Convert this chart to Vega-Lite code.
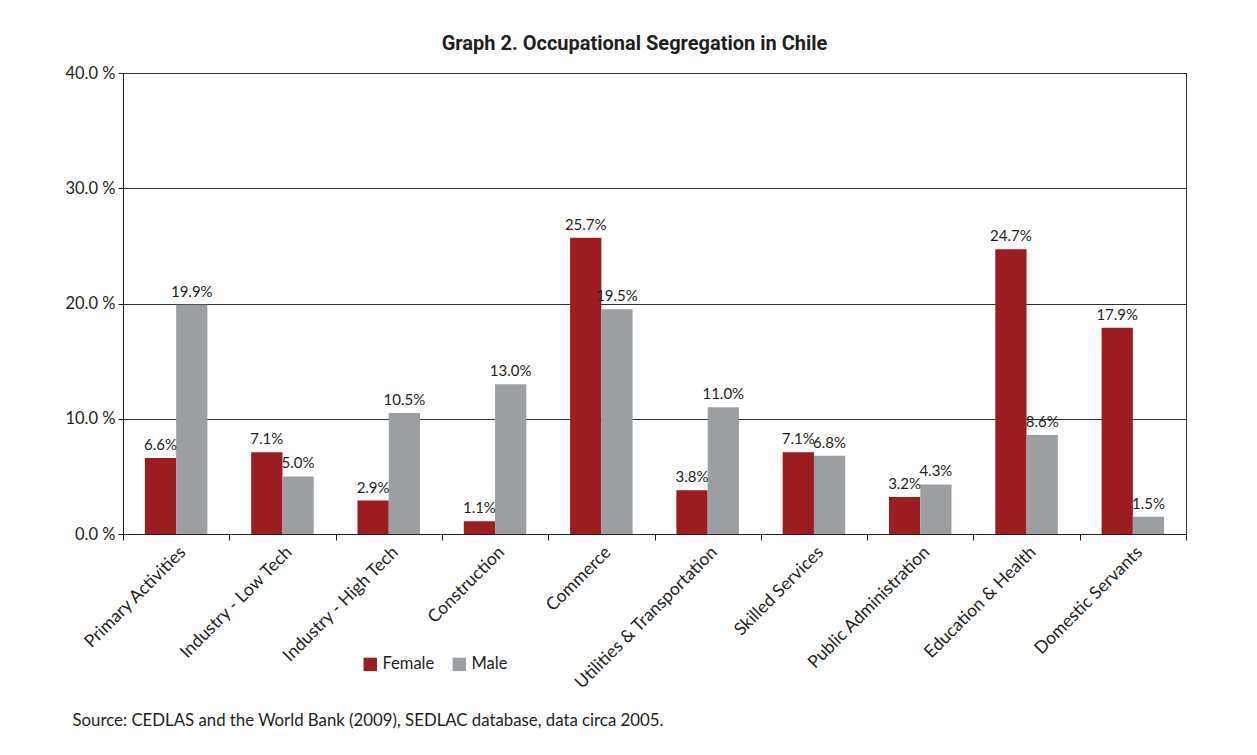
{
  "$schema": "https://vega.github.io/schema/vega-lite/v6.json",
  "width": 1063,
  "height": 461,
  "autosize": {"type": "none"},
  "padding": {"left": 123, "top": 73, "right": 71, "bottom": 221},
  "background": "white",
  "title": {
    "text": "Graph 2. Occupational Segregation in Chile",
    "font": "Roboto",
    "fontSize": 20,
    "fontWeight": "bold",
    "color": "#231F20",
    "offset": 11,
    "dx": -20
  },
  "config": {
    "font": "Lato",
    "view": {"stroke": "#333333", "strokeWidth": 1},
    "text": {"font": "Lato"}
  },
  "data": {
    "values": [
      {"Sector": "Primary Activities", "Sex": "Female", "Share": 0.066},
      {"Sector": "Primary Activities", "Sex": "Male", "Share": 0.199},
      {"Sector": "Industry - Low Tech", "Sex": "Female", "Share": 0.071},
      {"Sector": "Industry - Low Tech", "Sex": "Male", "Share": 0.050},
      {"Sector": "Industry - High Tech", "Sex": "Female", "Share": 0.029},
      {"Sector": "Industry - High Tech", "Sex": "Male", "Share": 0.105},
      {"Sector": "Construction", "Sex": "Female", "Share": 0.011},
      {"Sector": "Construction", "Sex": "Male", "Share": 0.130},
      {"Sector": "Commerce", "Sex": "Female", "Share": 0.257},
      {"Sector": "Commerce", "Sex": "Male", "Share": 0.195},
      {"Sector": "Utilities & Transportation", "Sex": "Female", "Share": 0.038},
      {"Sector": "Utilities & Transportation", "Sex": "Male", "Share": 0.110},
      {"Sector": "Skilled Services", "Sex": "Female", "Share": 0.071},
      {"Sector": "Skilled Services", "Sex": "Male", "Share": 0.068},
      {"Sector": "Public Administration", "Sex": "Female", "Share": 0.032},
      {"Sector": "Public Administration", "Sex": "Male", "Share": 0.043},
      {"Sector": "Education & Health", "Sex": "Female", "Share": 0.247},
      {"Sector": "Education & Health", "Sex": "Male", "Share": 0.086},
      {"Sector": "Domestic Servants", "Sex": "Female", "Share": 0.179},
      {"Sector": "Domestic Servants", "Sex": "Male", "Share": 0.015}
    ]
  },
  "encoding": {
    "x": {
      "field": "Sector",
      "type": "nominal",
      "sort": null,
      "scale": {"paddingInner": 0, "paddingOuter": 0},
      "axis": {
        "title": "Source: CEDLAS and the World Bank (2009), SEDLAC database, data circa 2005.",
        "titleFont": "Lato",
        "titleFontSize": 16.8,
        "titleFontWeight": "normal",
        "titleColor": "#231F20",
        "titleX": -51,
        "titleY": 186,
        "titleAlign": "left",
        "titleBaseline": "middle",
        "labelAngle": -45,
        "labelFont": "Lato",
        "labelFontSize": 17.5,
        "labelColor": "#231F20",
        "labelPadding": 3,
        "labelLimit": 400,
        "tickBand": "extent",
        "tickColor": "#231F20",
        "tickSize": 6,
        "domainColor": "#231F20",
        "grid": false
      }
    },
    "xOffset": {
      "field": "Sex",
      "type": "nominal",
      "scale": {"paddingInner": 0, "paddingOuter": 0.7}
    },
    "y": {
      "field": "Share",
      "type": "quantitative",
      "scale": {"domain": [0, 0.4]},
      "axis": {
        "title": null,
        "values": [0, 0.1, 0.2, 0.3, 0.4],
        "labelExpr": "format(datum.value * 100, '.1f') + ' %'",
        "labelFont": "Lato",
        "labelFontSize": 16.5,
        "labelColor": "#231F20",
        "labelPadding": 3,
        "tickColor": "#231F20",
        "tickSize": 5,
        "domainColor": "#231F20",
        "gridColor": "#333333",
        "gridWidth": 1
      }
    }
  },
  "layer": [
    {
      "mark": {"type": "bar"},
      "encoding": {
        "color": {
          "field": "Sex",
          "type": "nominal",
          "scale": {"domain": ["Female", "Male"], "range": ["#9B1D22", "#9C9FA2"]},
          "legend": {
            "title": null,
            "orient": "none",
            "direction": "horizontal",
            "legendX": 239,
            "legendY": 583,
            "symbolType": "square",
            "symbolSize": 180,
            "symbolStrokeWidth": 0,
            "labelFont": "Lato",
            "labelFontSize": 16.5,
            "labelColor": "#231F20",
            "labelOffset": 4,
            "columnPadding": 16
          }
        }
      }
    },
    {
      "mark": {"type": "text", "dy": -13, "fontSize": 15, "color": "#231F20", "font": "Lato"},
      "encoding": {
        "text": {"field": "Share", "type": "quantitative", "format": ".1%"}
      }
    }
  ]
}
